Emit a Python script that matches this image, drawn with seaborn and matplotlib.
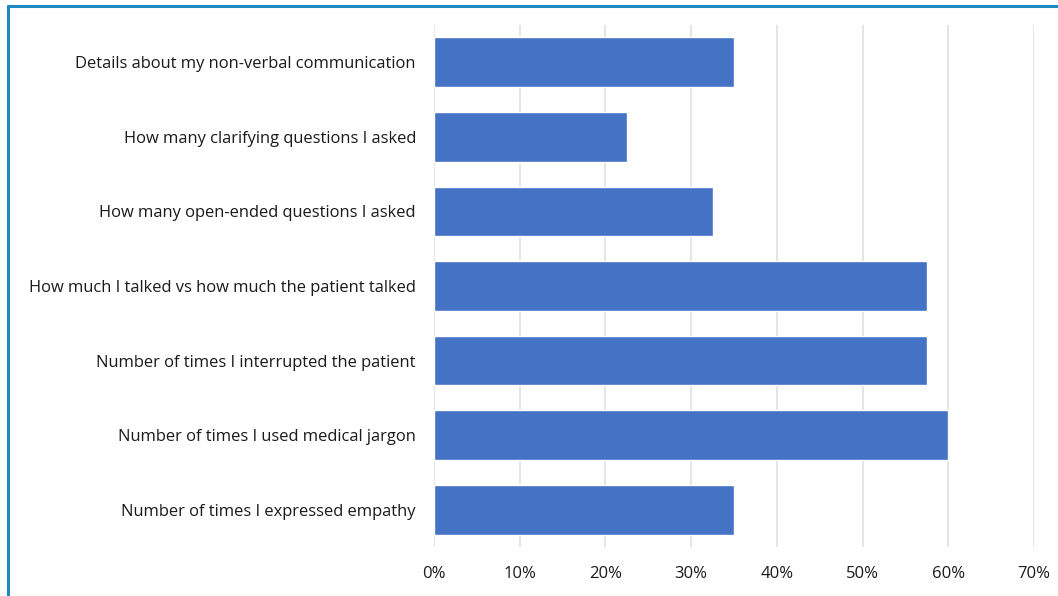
import matplotlib
matplotlib.use("Agg")
import matplotlib.pyplot as plt
import seaborn as sns
import pandas as pd
from matplotlib.lines import Line2D
from matplotlib.ticker import FuncFormatter, MultipleLocator

categories = [
    "Details about my non-verbal communication",
    "How many clarifying questions I asked",
    "How many open-ended questions I asked",
    "How much I talked vs how much the patient talked",
    "Number of times I interrupted the patient",
    "Number of times I used medical jargon",
    "Number of times I expressed empathy",
]
shares = [35.0, 22.5, 32.5, 57.5, 57.5, 60.0, 35.0]
x_ticks = [0, 10, 20, 30, 40, 50, 60, 70]

df = pd.DataFrame({"item": categories, "share": shares})

sns.set_theme(style="white")
plt.rcParams["font.family"] = ["Open Sans", "DejaVu Sans"]

fig = plt.figure(figsize=(10.58, 5.96), dpi=100)
ax = fig.add_axes([434 / 1058, 49 / 596, 600 / 1058, 522 / 596])

sns.barplot(data=df, x="share", y="item", color="#4472C4", saturation=1,
            width=0.665, ax=ax, orient="h", zorder=3)

ax.set_xlim(0, 70)
ax.set_xticks(x_ticks)
ax.xaxis.set_major_formatter(FuncFormatter(lambda v, _: f"{v:.0f}%"))
ax.grid(axis="x", color="#e0e0e0", linewidth=1.2, zorder=0)
ax.set_axisbelow(True)
for s in ax.spines.values():
    s.set_visible(False)
ax.set_xlabel("")
ax.set_ylabel("")
ax.tick_params(axis="x", length=0, pad=14, labelsize=12, labelcolor="#1a1a1a")
ax.tick_params(axis="y", length=0, pad=13, labelsize=11.9, labelcolor="#1a1a1a")

# blue frame along the left and top edges
fig.add_artist(Line2D([7.5 / 1058, 7.5 / 1058], [0, 1 - 5.5 / 596],
                      transform=fig.transFigure, color="#1f88c2", linewidth=2.2))
fig.add_artist(Line2D([7.5 / 1058, 1], [1 - 5.5 / 596, 1 - 5.5 / 596],
                      transform=fig.transFigure, color="#1f88c2", linewidth=2.2))

fig.savefig("out.png", dpi=100)
